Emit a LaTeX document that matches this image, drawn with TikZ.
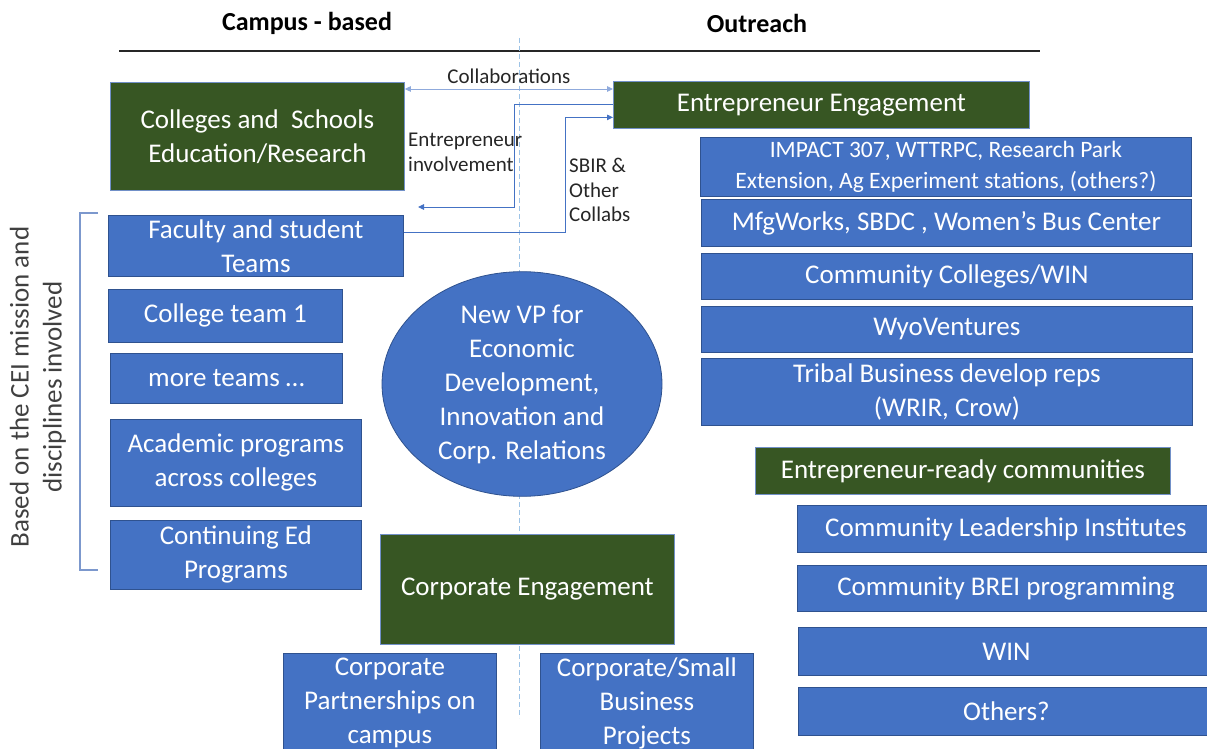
\documentclass[tikz,border=0pt]{standalone}
\usepackage{fontspec}
\setmainfont{Carlito}
\usetikzlibrary{arrows.meta,positioning,shapes.geometric}
\definecolor{boxblue}{HTML}{4472C4}
\definecolor{boxrim}{HTML}{2F528F}
\definecolor{leafgreen}{HTML}{375623}
\definecolor{greenrim}{HTML}{7190C8}
\definecolor{linkblue}{HTML}{4472C4}
\definecolor{softblue}{HTML}{8FAADC}
\definecolor{guide}{HTML}{9DC3E6}
\definecolor{ink}{HTML}{262626}
\definecolor{subink}{HTML}{404040}
\newcommand{\boxtxt}{\fontsize{27}{34}\selectfont}
\newcommand{\midtxt}{\fontsize{23.5}{31}\selectfont}
\newcommand{\notetxt}{\fontsize{21}{24.5}\selectfont}
\newcommand{\headtxt}{\fontsize{26}{30}\selectfont\bfseries}
\newcommand{\sidetxt}{\fontsize{27}{33}\selectfont}

\begin{document}
\begin{tikzpicture}[x=1pt,y=-1pt,
  tile/.style={draw=boxrim,line width=0.8pt,fill=boxblue,text=white,align=center,
    inner sep=0pt,anchor=north west,font=\boxtxt},
  hub/.style={tile,draw=greenrim},
  hub/.append style={fill=leafgreen},
  link/.style={draw=linkblue,line width=0.9pt,-{Triangle[length=6pt,width=5.5pt]}},
  note/.style={text=ink,align=left,anchor=north west,inner sep=0pt,font=\notetxt},
  bracket/.style={draw=softblue!80!boxrim,line width=1.1pt}]
  \useasboundingbox (0,0) rectangle (1207,749);

  % column headings and the rule under them
  \node[font=\headtxt,text=black] (campus) at (307,23) {Campus - based};
  \node[font=\headtxt,text=black] (reach) at (757,23) {Outreach};
  \draw[line width=1.6pt,ink] (119,51) -- (1040,51);
  \draw[guide,line width=0.9pt,dash pattern=on 5pt off 3pt] (519,38) -- (519,718);

  % campus side
  \node[hub,minimum width=294,minimum height=108] (colleges) at (110,82)
     {Colleges and~ Schools\\Education/Research};
  \node[tile,minimum width=295,minimum height=61] (faculty) at (108,215)
     {Faculty and student\\Teams};
  \node[tile,minimum width=234,minimum height=53] (team1) at (108,289) {College team 1};
  \node[tile,minimum width=232,minimum height=50] (more) at (110,353) {more teams …};
  \node[tile,minimum width=251,minimum height=87] (acad) at (110,419)
     {Academic programs\\across colleges};
  \node[tile,minimum width=251,minimum height=69] (conted) at (110,520)
     {Continuing Ed\\Programs};

  \draw[bracket] (98,213) -- (80,213) -- (80,570) -- (98,570);
  \node[rotate=90,font=\sidetxt,text=subink,align=center,inner sep=0pt] (basis) at (38,387)
     {Based on the CEI mission and\\disciplines involved};

  % centre
  \node[ellipse,draw=boxrim,line width=0.8pt,fill=boxblue,text=white,font=\boxtxt,align=center,
        minimum width=280,minimum height=222,inner sep=0pt] (vp) at (522,384)
     {New VP for\\Economic\\Development,\\Innovation and\\Corp. Relations};

  \node[hub,minimum width=294,minimum height=110] (corp) at (380,534) {Corporate Engagement};
  \node[tile,minimum width=213,minimum height=100] (partner) at (283,653)
     {Corporate\\Partnerships on\\campus};
  \node[tile,minimum width=213,minimum height=100] (smallbiz) at (540,653)
     {Corporate/Small\\Business\\Projects};

  % outreach side
  \node[hub,minimum width=416,minimum height=47] (entre) at (613,81) {Entrepreneur Engagement};
  \node[tile,font=\midtxt,minimum width=491,minimum height=59] (impact) at (700,137)
     {IMPACT 307, WTTRPC, Research Park\\Extension, Ag Experiment stations, (others?)};
  \node[tile,minimum width=490,minimum height=47] (mfg) at (701,199)
     {MfgWorks, SBDC , Women’s Bus Center};
  \node[tile,minimum width=491,minimum height=46] (ccwin) at (701,253) {Community Colleges/WIN};
  \node[tile,minimum width=491,minimum height=46] (wyo) at (701,306) {WyoVentures};
  \node[tile,minimum width=491,minimum height=67] (tribal) at (701,358)
     {Tribal Business develop reps\\(WRIR, Crow)};

  \node[hub,minimum width=415,minimum height=47] (ready) at (755,447)
     {Entrepreneur-ready communities};
  \node[tile,minimum width=417,minimum height=47] (cli) at (797,505)
     {Community Leadership Institutes};
  \node[tile,minimum width=417,minimum height=46] (brei) at (797,565)
     {Community BREI programming};
  \node[tile,minimum width=416,minimum height=48] (win) at (798,627) {WIN};
  \node[tile,minimum width=416,minimum height=48] (others) at (798,687) {Others?};

  % links between the two sides
  \coordinate (collabL) at ([yshift=-7pt]colleges.north east);
  \coordinate (invol) at (418,207);
  \draw[link,softblue,{Triangle[length=6pt,width=5.5pt]}-{Triangle[length=6pt,width=5.5pt]}]
     (collabL) -- (collabL -| entre.west)
     node[midway,above=2pt,font=\notetxt,text=ink] (collabtxt) {Collaborations};
  \draw[link] (entre.west) -- ++(-99,0) |- (invol);
  \draw[link] ([yshift=13.5pt]faculty.east) -- ++(162,0) |- ([yshift=-12.5pt]entre.west);
  \node[note] (involtxt) at (408,133) {Entrepreneur\\involvement};
  \node[note] (sbirtxt) at (569,158) {SBIR \&\\Other\\Collabs};
\end{tikzpicture}
\end{document}
